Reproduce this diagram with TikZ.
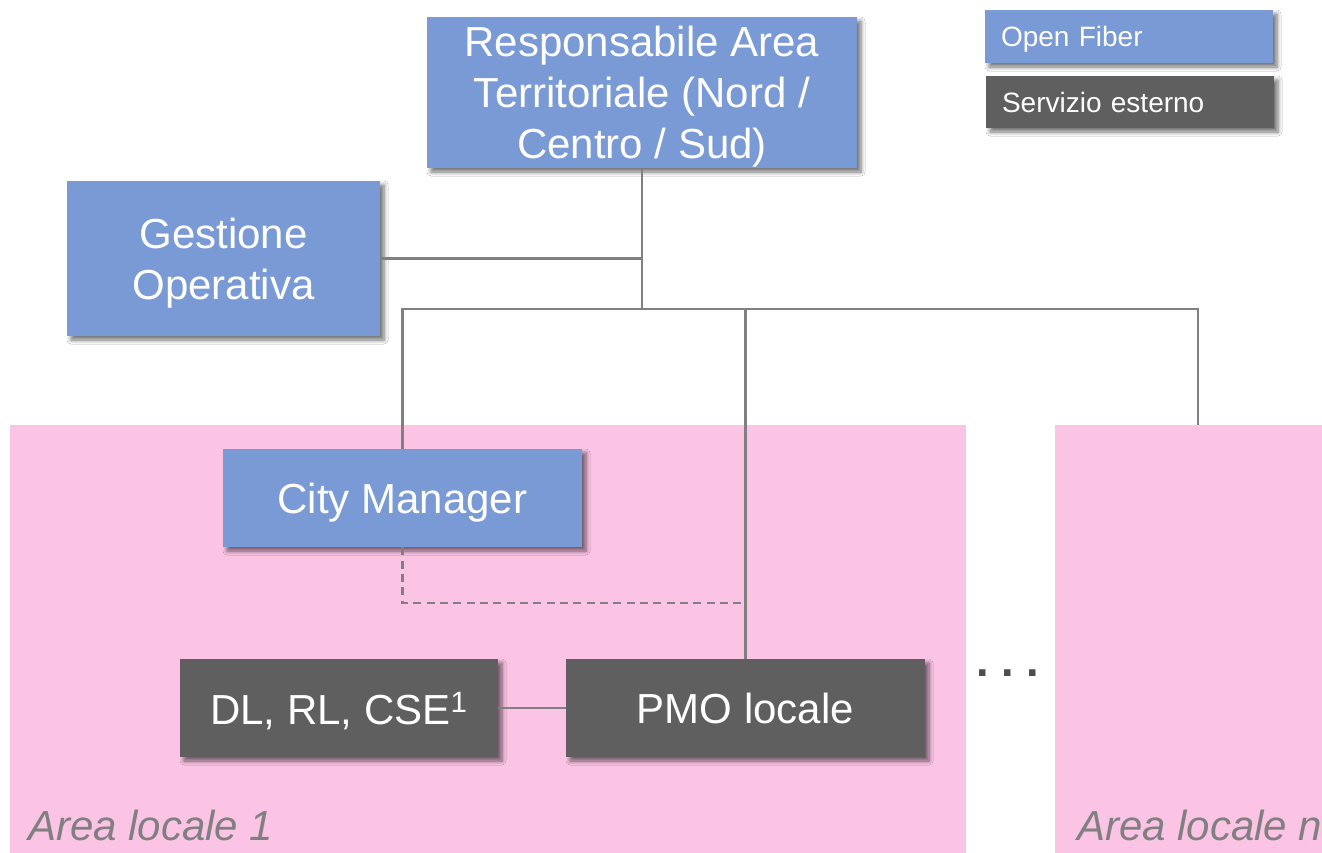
\documentclass[tikz,border=0pt]{standalone}
\usepackage{fontspec}
\setmainfont{Liberation Sans}
\usetikzlibrary{shadows.blur}
\definecolor{ofblue}{HTML}{7A9AD6}
\definecolor{extgray}{HTML}{5F5F5F}
\definecolor{areapink}{HTML}{FBC3E4}
\definecolor{linegray}{HTML}{808080}
\definecolor{dotgray}{HTML}{4D4D4D}
\tikzset{
  boxshadow/.style={blur shadow={shadow xshift=3pt, shadow yshift=-3pt, shadow blur steps=6, shadow opacity=55, shadow blur radius=3pt}},
  orgbox/.style={boxshadow, text=white, inner sep=0pt, align=center, text depth=-2.5pt,
    font=\fontsize{31.5pt}{38.3pt}\selectfont},
  ofbox/.style={orgbox, fill=ofblue},
  extbox/.style={orgbox, fill=extgray},
  legbox/.style={boxshadow, text=white, inner xsep=12pt, inner ysep=0pt, text width=192pt,
    align=left, text depth=-2pt, font=\fontsize{21pt}{25pt}\selectfont},
  area/.style={fill=areapink, inner sep=0pt},
  arealabel/.style={text=linegray, inner sep=0pt, font=\fontsize{31.5pt}{38pt}\selectfont\itshape},
  link/.style={draw=linegray, line width=1.7pt},
  dottedlink/.style={link, dash pattern=on 6pt off 4pt}
}
\begin{document}
\begin{tikzpicture}[x=0.75pt, y=-0.75pt]
\useasboundingbox (0,0) rectangle (1322,853);
\clip (0,0) rectangle (1322,853);
\fill[white] (0,0) rectangle (1322,853);

% local areas
\node[area, minimum width=717pt, minimum height=321pt] (area1) at (488,639) {};
\node[area, minimum width=225pt, minimum height=321pt] (arean) at (1205,639) {};
\node[arealabel, anchor=base west] (area1lbl) at (28,840) {Area locale 1};
\node[arealabel, anchor=base west] (areanlbl) at (1077,840) {Area locale n};

% legend
\node[legbox, fill=ofblue, minimum height=39.75pt] (legof) at (1129,36.5) {Open Fiber};
\node[legbox, fill=extgray, minimum height=39pt] (legext) at (1130,102) {Servizio esterno};

% organisation boxes
\node[ofbox, minimum width=322.5pt, minimum height=113.25pt] (resp) at (642,92.5)
  {Responsabile Area\\Territoriale (Nord /\\Centro / Sud)};
\node[ofbox, minimum width=234.75pt, minimum height=116.25pt] (gest) at (223.5,258.5)
  {Gestione\\Operativa};
\node[ofbox, minimum width=269.25pt, minimum height=73.5pt] (city) at (402.5,498)
  {City Manager};
\node[extbox, minimum width=238.5pt, minimum height=73.5pt] (dl) at (339,708)
  {DL, RL, CSE\textsuperscript{1}};
\node[extbox, minimum width=269.25pt, minimum height=73.5pt] (pmo) at (745.5,708)
  {PMO locale};

\node[text=dotgray, inner sep=0pt, font=\fontsize{34pt}{40pt}\selectfont\bfseries] (dots) at (1008,673)
  {.\kern9.3pt.\kern9.3pt.};

% connectors
\coordinate (bus) at (642,309);
\coordinate (busend) at (1198,309);
\coordinate (dashlevel) at (0,603);
\draw[link] (resp.south) -- (bus);
\draw[link] (gest.east) -- (gest.east -| resp.south);
\draw[link] (city.north) |- (busend) -- (busend |- arean.north);
\draw[link] (pmo.north) -- (pmo.north |- bus);
\draw[dottedlink] (city.south) |- (dashlevel -| pmo.north);
\draw[link] (dl.east) -- (pmo.west);
\end{tikzpicture}
\end{document}
